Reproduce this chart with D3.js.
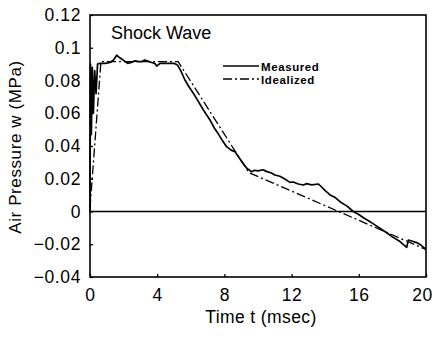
<!DOCTYPE html>
<html>
  <head>
    <meta charset="utf-8">
    <title>Shock Wave</title>
    <script src="https://cdn.jsdelivr.net/npm/d3@7"></script>
    <style>
      body
      {
        margin: 0px;
        padding: 0px;
        background: white;
      }

      svg text
      {
        font-family: Arial, "Liberation Sans", sans-serif;
        fill: black;
      }

      .tick text
      {
        font-size: 17.5px;
        letter-spacing: 0.6px;
      }

      .tick line
      {
        stroke: black;
        stroke-width: 1.3px;
      }

      .frame
      {
        fill: none;
        stroke: black;
        stroke-width: 1.6px;
      }

      .measured
      {
        fill: none;
        stroke: black;
        stroke-width: 1.7px;
        stroke-linejoin: round;
      }

      .idealized
      {
        fill: none;
        stroke: black;
        stroke-width: 1.3px;
        stroke-dasharray: 9, 3, 2, 3;
      }

      .legendText
      {
        font-size: 11.5px;
        font-weight: bold;
        letter-spacing: 0.6px;
      }
    </style>
  </head>
  <body>
    <svg id="chart"></svg>

    <script>

      //--- Chart data
      var measuredT = [0, 0.03, 0.08, 0.14, 0.2, 0.28, 0.36, 0.45, 0.6, 0.9, 1.2, 1.4, 1.59, 1.75, 1.9, 2.1,
        2.24, 2.45, 2.68, 2.9, 3.07, 3.25, 3.4, 3.67, 3.85, 3.97, 4.17, 4.4, 4.6, 4.8, 5.0, 5.2, 5.4, 5.65,
        5.9, 6.15, 6.4, 6.75, 7.14, 7.4, 7.6, 7.9, 8.13, 8.4, 8.63, 9.0, 9.33, 9.62, 9.8, 10.0, 10.3, 10.5,
        10.8, 11.0, 11.3, 11.6, 11.9, 12.1, 12.4, 12.7, 12.9, 13.2, 13.6, 13.8, 14.0, 14.29, 14.6, 14.88,
        15.3, 15.67, 16.0, 16.3, 16.67, 17.0, 17.3, 17.66, 18.0, 18.4, 18.85, 18.95, 19.2, 19.44, 19.7, 20];
      var measuredW = [0, 0.09, 0.047, 0.088, 0.06, 0.086, 0.072, 0.09, 0.0905, 0.0905, 0.091, 0.0925,
        0.0955, 0.094, 0.093, 0.0915, 0.0905, 0.091, 0.092, 0.0915, 0.0915, 0.0925, 0.092, 0.091, 0.0905,
        0.0888, 0.0905, 0.0905, 0.0905, 0.0905, 0.0905, 0.0895, 0.086, 0.0803, 0.076, 0.0722, 0.068, 0.062,
        0.0559, 0.051, 0.048, 0.043, 0.0396, 0.0375, 0.0365, 0.031, 0.0264, 0.0243, 0.0252, 0.0248, 0.0255,
        0.0245, 0.0235, 0.0223, 0.0215, 0.0198, 0.0178, 0.018, 0.0168, 0.0162, 0.017, 0.0163, 0.0168,
        0.0148, 0.0128, 0.0101, 0.0085, 0.006, 0.0033, 0.0, -0.0018, -0.004, -0.0062, -0.0085, -0.0105,
        -0.013, -0.0155, -0.018, -0.0219, -0.0174, -0.0182, -0.019, -0.0205, -0.0231];

      var idealT = [0, 0.65, 5.25, 9.45, 20];
      var idealW = [0.002, 0.0915, 0.0915, 0.0238, -0.0232];

      var xTicks = [0, 4, 8, 12, 16, 20];
      var yTicks = [-0.04, -0.02, 0, 0.02, 0.04, 0.06, 0.08, 0.1, 0.12];

      var legendLabels = ["Measured", "Idealized"];

      //--- Layout
      var chartWidth = 445;
      var chartHeight = 337;
      var plotLeft = 90, plotRight = 426, plotTop = 15, plotBottom = 277;

      var svg = d3.select("#chart")
        .attr("width", chartWidth)
        .attr("height", chartHeight);

      var x = d3.scaleLinear().domain([0, 20]).range([plotLeft, plotRight]);
      var y = d3.scaleLinear().domain([-0.04, 0.12]).range([plotBottom, plotTop]);

      function fmtY(d)
      {
        if (d === 0) return "0";
        return (d < 0 ? "\u2212" : "") + String(+Math.abs(d).toFixed(2));
      }

      //--- Axes (ticks point inward)
      var gx = svg.append("g")
        .attr("transform", "translate(0," + plotBottom + ")")
        .call(d3.axisBottom(x).tickValues(xTicks).tickSizeInner(-3).tickSizeOuter(0).tickPadding(12));
      gx.select(".domain").remove();
      gx.selectAll(".tick text")
        .attr("dx", d => d === 20 ? -4 : 0);

      var gy = svg.append("g")
        .attr("transform", "translate(" + plotLeft + ",0)")
        .call(d3.axisLeft(y).tickValues(yTicks).tickFormat(fmtY).tickSizeInner(-3).tickSizeOuter(0).tickPadding(9));
      gy.select(".domain").remove();

      //--- Zero line
      svg.append("line")
        .attr("x1", x(0)).attr("x2", x(20))
        .attr("y1", y(0)).attr("y2", y(0))
        .attr("stroke", "black")
        .attr("stroke-width", 1.3);

      //--- Curves
      var line = d3.line()
        .x(d => x(d[0]))
        .y(d => y(d[1]));

      svg.append("path")
        .datum(idealT.map((t, i) => [t, idealW[i]]))
        .attr("class", "idealized")
        .attr("d", line);

      svg.append("path")
        .datum(measuredT.map((t, i) => [t, measuredW[i]]))
        .attr("class", "measured")
        .attr("d", line);

      //--- Frame
      svg.append("rect")
        .attr("class", "frame")
        .attr("x", plotLeft).attr("y", plotTop)
        .attr("width", plotRight - plotLeft).attr("height", plotBottom - plotTop);

      //--- Titles
      svg.append("text")
        .attr("x", 111).attr("y", 39)
        .style("font-size", "18px")
        .text("Shock Wave");

      svg.append("text")
        .attr("x", 261).attr("y", 323)
        .attr("text-anchor", "middle")
        .style("font-size", "17.5px")
        .style("letter-spacing", "0.4px")
        .text("Time t (msec)");

      svg.append("text")
        .attr("transform", "translate(21," + ((plotTop + plotBottom) / 2 + 1) + ") rotate(-90)")
        .attr("text-anchor", "middle")
        .style("font-size", "17px")
        .style("letter-spacing", "0.6px")
        .text("Air Pressure w (MPa)");

      //--- Legend
      var legend = svg.append("g");
      legendLabels.forEach(function (name, i)
      {
        var ly = 66 + i * 13;
        legend.append("line")
          .attr("class", i === 0 ? "measured" : "idealized")
          .attr("x1", 223).attr("x2", 259)
          .attr("y1", ly).attr("y2", ly);
        legend.append("text")
          .attr("class", "legendText")
          .attr("x", 261).attr("y", ly + 4.5)
          .text(name);
      });

    </script>
  </body>
</html>
